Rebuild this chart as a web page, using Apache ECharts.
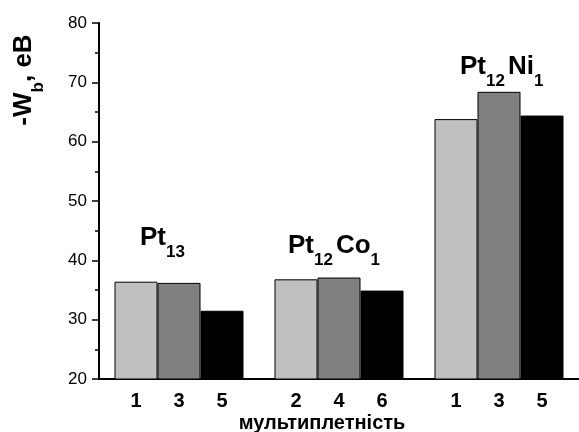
<!DOCTYPE html>
<html lang="uk">
<head>
    <meta charset="UTF-8">
    <title>Енергія зв'язку кластерів</title>
    <script src="https://cdn.jsdelivr.net/npm/echarts@6/dist/echarts.min.js"></script>
</head>
<body style="margin:0">
    <div id="main" style="width: 579px; height: 432px;"></div>

    <script>
        // дані
        var clusters = ['Pt13', 'Pt12Co1', 'Pt12Ni1'];
        var multiplicities = [[1, 3, 5], [2, 4, 6], [1, 3, 5]];
        var firstBar = [36.4, 36.8, 63.8];
        var secondBar = [36.2, 37.1, 68.4];
        var thirdBar = [31.5, 34.9, 64.4];
        var yTicks = [20, 30, 40, 50, 60, 70, 80];

        var FONT = 'Liberation Sans, Arial, sans-serif';
        var myChart = echarts.init(document.getElementById('main'));

        var subStyle = { fontSize: 17, fontWeight: 'bold', fontFamily: FONT, fill: '#000', padding: [28, 3, 0, 0] };
        var subTight = { fontSize: 17, fontWeight: 'bold', fontFamily: FONT, fill: '#000', padding: [28, 0, 0, 0] };
        var mainStyle = { fontSize: 26, fontWeight: 'bold', fontFamily: FONT, fill: '#000' };

        function formula(x, y, text) {
            return {
                type: 'text',
                x: x,
                y: y,
                style: {
                    text: text,
                    rich: { m: mainStyle, s: subStyle },
                    align: 'left', textAlign: 'left',
                    verticalAlign: 'middle', textVerticalAlign: 'middle'
                }
            };
        }

        function bar(name, data, color) {
            return {
                name: name,
                type: 'bar',
                data: data,
                barWidth: 43,
                barGap: '0%',
                itemStyle: { color: color, borderColor: '#000', borderWidth: 1 }
            };
        }

        var option = {
            animation: false,
            grid: { left: 99, top: 23, width: 483, bottom: 53 },
            xAxis: [
                {
                    type: 'category',
                    data: clusters,
                    position: 'bottom',
                    axisLine: { lineStyle: { color: '#000', width: 2 } },
                    axisTick: { alignWithLabel: true, length: 6, lineStyle: { width: 2 } },
                    axisLabel: {
                        margin: 12,
                        formatter: function (v, i) {
                            return multiplicities[i].map(function (m) { return '{n|' + m + '}'; }).join('');
                        },
                        rich: {
                            n: { width: 43, align: 'center', fontSize: 20, fontWeight: 'bold', fontFamily: FONT, color: '#000' }
                        }
                    }
                },
                {
                    type: 'category',
                    data: clusters,
                    position: 'bottom',
                    axisLine: { show: false },
                    axisTick: { length: 5, lineStyle: { color: '#000', width: 2 } },
                    axisLabel: { show: false }
                }
            ],
            yAxis: {
                type: 'value',
                min: yTicks[0],
                max: yTicks[yTicks.length - 1],
                interval: 10,
                axisLine: { show: true, lineStyle: { color: '#000', width: 2 } },
                axisTick: { show: true, length: 7, lineStyle: { width: 1.5 } },
                minorTick: { show: true, splitNumber: 2, length: 4, lineStyle: { color: '#000', width: 1.5 } },
                splitLine: { show: false },
                axisLabel: { fontSize: 17, color: '#000', fontFamily: FONT, margin: 12 }
            },
            series: [
                bar('1', firstBar, '#c0c0c0'),
                bar('2', secondBar, '#808080'),
                bar('3', thirdBar, '#000000')
            ],
            graphic: [
                formula(140, 238, '{m|Pt}{s|13}'),
                formula(288, 246, '{m|Pt}{s|12}{m|Co}{s|1}'),
                formula(460, 67, '{m|Pt}{s|12}{m|Ni}{s|1}'),
                {
                    type: 'text',
                    x: 24,
                    y: 80,
                    rotation: Math.PI / 2,
                    style: {
                        text: '{m|-W}{s|b}{m|, eB}',
                        rich: { m: mainStyle, s: subTight },
                        align: 'center', textAlign: 'center',
                        verticalAlign: 'middle', textVerticalAlign: 'middle'
                    }
                },
                {
                    type: 'text',
                    x: 322,
                    y: 423,
                    style: {
                        text: 'мультиплетність',
                        font: 'bold 20px ' + FONT,
                        fill: '#000',
                        align: 'center', textAlign: 'center',
                        verticalAlign: 'middle', textVerticalAlign: 'middle'
                    }
                }
            ]
        };

        myChart.setOption(option);
    </script>
</body>
</html>
